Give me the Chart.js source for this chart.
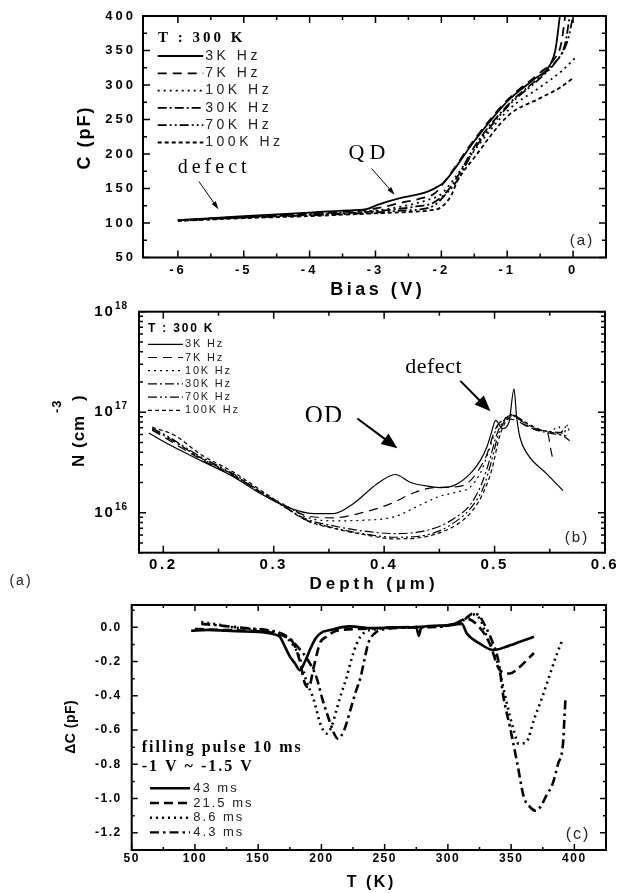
<!DOCTYPE html>
<html>
<head>
<meta charset="utf-8">
<script src="https://cdn.jsdelivr.net/npm/chart.js@4.4.1/dist/chart.umd.min.js"></script>
<style>
  html, body { margin: 0; padding: 0; background: #fff; }
  #page { position: relative; width: 618px; height: 893px; overflow: hidden; }
  canvas { position: absolute; left: 0; }
</style>
</head>
<body>
<div id="page">
  <canvas id="chartA" width="618" height="300" style="top:0px"></canvas>
  <canvas id="chartB" width="618" height="300" style="top:298px"></canvas>
  <canvas id="chartC" width="618" height="295" style="top:598px"></canvas>
</div>
<script>
// ============ DATA ============
// (a) C-V curves at 300 K, [bias V, C pF]
const A_LABELS = ["3K Hz", "7K Hz", "10K Hz", "30K Hz", "70K Hz", "100K Hz"];
const A_3K = [[-6,104],[-5,110],[-4,115],[-3.5,118],[-3.14,120],[-2.98,126],[-2.63,136],[-2.22,145],[-2.07,152],[-1.97,158],[-1.49,220],[-0.98,278],[-0.6,308],[-0.35,329],[-0.27,350],[-0.2,400]];
const A_7K = [[-6,104],[-5,109],[-4,114],[-3.5,116],[-3,121],[-2.63,129],[-2.3,136],[-2.1,143],[-1.95,160],[-1.49,222],[-0.98,280],[-0.5,318],[-0.3,336],[-0.18,360],[-0.12,400]];
const A_10K = [[-6,103],[-5,108],[-4,113],[-3.5,115],[-3,118],[-2.6,124],[-2.22,133],[-2,142],[-1.8,165],[-1.49,206],[-0.98,264],[-0.5,297],[-0.2,318],[0.04,340]];
const A_30K = [[-6,104],[-5,108],[-4,112],[-3.5,114],[-3,117],[-2.6,121],[-2.38,124],[-2.13,129],[-1.92,145],[-1.75,168],[-1.49,212],[-0.98,272],[-0.5,312],[-0.3,330],[-0.12,360],[-0.05,400]];
const A_70K = [[-6,104],[-5,108],[-4,111],[-3.5,113],[-3,115],[-2.6,118],[-2.3,120],[-2.1,126],[-1.92,143],[-1.77,160],[-1.49,208],[-0.98,270],[-0.5,310],[-0.25,335],[-0.08,365],[0,400]];
const A_100K = [[-6,103],[-5,107],[-4,110],[-3.5,112],[-3,114],[-2.5,116],[-2.2,118],[-2,123],[-1.85,140],[-1.76,160],[-1.49,196],[-0.98,256],[-0.5,281],[-0.2,296],[0,310]];
const A_X_TICKS = [-6, -5, -4, -3, -2, -1, 0];
const A_Y_TICKS = [50, 100, 150, 200, 250, 300, 350, 400];

// (b) carrier profile, [depth um, N cm^-3]
const B_LABELS = ["3K Hz", "7K Hz", "10K Hz", "30K Hz", "70K Hz", "100K Hz"];
const B_3K = [[0.187,6.2e16],[0.203,4.9e16],[0.234,3.3e16],[0.263,2.3e16],[0.288,1.55e16],[0.311,1.15e16],[0.336,9.8e15],[0.354,9.8e15],[0.372,1.23e16],[0.394,1.95e16],[0.41,2.4e16],[0.424,2.0e16],[0.442,1.82e16],[0.451,1.78e16],[0.463,1.86e16],[0.478,2.45e16],[0.487,3.3e16],[0.493,4.5e16],[0.497,6.2e16],[0.501,8.3e16],[0.507,6.9e16],[0.513,7.9e16],[0.5176,1.7e17],[0.52,8.9e16],[0.523,5.6e16],[0.53,3.8e16],[0.547,2.45e16],[0.562,1.66e16]];
const B_7K = [[0.19,6.6e16],[0.2,5.7e16],[0.234,3.4e16],[0.263,2.35e16],[0.288,1.6e16],[0.311,1.17e16],[0.33,9.3e15],[0.354,8.9e15],[0.38,1.0e16],[0.406,1.23e16],[0.427,1.58e16],[0.445,1.78e16],[0.463,1.8e16],[0.475,1.95e16],[0.485,2.6e16],[0.493,3.8e16],[0.5,6.5e16],[0.505,8e16],[0.512,8.6e16],[0.52,8.2e16],[0.53,7.2e16],[0.54,6.6e16],[0.548,6.2e16],[0.551,4.2e16],[0.553,3.3e16]];
const B_10K = [[0.19,6.8e16],[0.2,6.0e16],[0.234,3.5e16],[0.263,2.4e16],[0.288,1.62e16],[0.311,1.18e16],[0.33,9.0e15],[0.354,8.3e15],[0.38,8.4e15],[0.409,9.1e15],[0.433,1.2e16],[0.45,1.45e16],[0.465,1.6e16],[0.478,1.8e16],[0.488,2.6e16],[0.495,4.2e16],[0.502,7e16],[0.51,8.8e16],[0.516,9.2e16],[0.525,8e16],[0.54,6.8e16],[0.55,6.4e16],[0.558,7.2e16],[0.562,6e16],[0.566,7.5e16]];
const B_30K = [[0.19,6.7e16],[0.2,5.9e16],[0.234,3.5e16],[0.263,2.4e16],[0.288,1.6e16],[0.311,1.12e16],[0.33,8.6e15],[0.354,7.4e15],[0.38,6.6e15],[0.41,6.2e15],[0.43,6.4e15],[0.45,7.3e15],[0.465,9e15],[0.478,1.2e16],[0.488,1.9e16],[0.495,3.2e16],[0.502,6e16],[0.508,8.2e16],[0.515,9.3e16],[0.522,8.5e16],[0.535,6.8e16],[0.55,6.2e16],[0.562,5.8e16],[0.568,5.2e16]];
const B_70K = [[0.19,6.9e16],[0.2,6.1e16],[0.234,3.6e16],[0.263,2.45e16],[0.288,1.62e16],[0.311,1.12e16],[0.33,8.4e15],[0.354,7.1e15],[0.38,6.2e15],[0.41,5.7e15],[0.43,5.8e15],[0.45,6.6e15],[0.465,8.2e15],[0.478,1.1e16],[0.49,1.8e16],[0.497,3.2e16],[0.503,5.8e16],[0.51,8.5e16],[0.516,9.5e16],[0.523,8.6e16],[0.535,7e16],[0.55,6.4e16],[0.56,6.3e16],[0.565,7.2e16],[0.568,6.5e16]];
const B_100K = [[0.19,7.1e16],[0.21,5.9e16],[0.234,3.8e16],[0.263,2.55e16],[0.288,1.68e16],[0.311,1.13e16],[0.33,8.3e15],[0.354,7.0e15],[0.38,6.1e15],[0.41,5.5e15],[0.43,5.6e15],[0.45,6.3e15],[0.468,7.9e15],[0.48,1.05e16],[0.49,1.6e16],[0.498,2.8e16],[0.504,5.5e16],[0.51,8e16],[0.517,9.3e16],[0.525,8.3e16],[0.54,6.8e16],[0.555,6.2e16],[0.565,5.8e16]];
const B_X_TICKS = [0.2, 0.3, 0.4, 0.5, 0.6];
const B_Y_TICKS = [1e16, 1e17, 1e18];

// (c) DLTS spectra, [T K, dC pF]
const C_LABELS = ["43 ms", "21.5 ms", "8.6 ms", "4.3 ms"];
const C_43 = [[97,-0.02],[110,-0.015],[125,-0.02],[140,-0.025],[155,-0.03],[162,-0.04],[167,-0.055],[171,-0.11],[175,-0.17],[179,-0.21],[183,-0.25],[187,-0.2],[191,-0.13],[195,-0.07],[199,-0.036],[207,-0.016],[222,0.005],[240,-0.005],[260,0],[275,0],[277,-0.05],[279,0],[295,0.01],[305,0.015],[311,0.02],[315,-0.036],[325,-0.094],[336,-0.133],[346,-0.114],[357,-0.085],[368,-0.055]];
const C_21 = [[100,-0.01],[120,-0.015],[140,-0.02],[160,-0.03],[170,-0.05],[178,-0.094],[183,-0.2],[187,-0.33],[190,-0.35],[194,-0.23],[199,-0.09],[204,-0.055],[212,-0.02],[230,-0.01],[260,0],[290,0.005],[305,0.02],[315,0.05],[325,0],[333,-0.094],[341,-0.25],[349,-0.27],[357,-0.23],[368,-0.15]];
const C_8 = [[105,0.03],[115,0.02],[130,0],[150,-0.015],[165,-0.03],[175,-0.08],[183,-0.18],[188,-0.31],[194,-0.425],[199,-0.56],[204,-0.62],[208,-0.58],[212,-0.48],[216,-0.38],[220,-0.29],[224,-0.18],[228,-0.094],[233,-0.036],[245,-0.01],[270,0],[300,0.01],[312,0.04],[320,0.075],[326,0.04],[331,-0.06],[336,-0.13],[341,-0.26],[346,-0.425],[352,-0.6],[356,-0.68],[362,-0.67],[368,-0.54],[374,-0.42],[380,-0.29],[386,-0.16],[391,-0.065]];
const C_4 = [[105,0.02],[120,0.01],[140,-0.005],[160,-0.02],[172,-0.05],[182,-0.12],[190,-0.2],[196,-0.29],[201,-0.425],[207,-0.56],[210,-0.62],[213,-0.65],[218,-0.6],[223,-0.48],[227,-0.38],[231,-0.29],[234,-0.19],[237,-0.094],[242,-0.036],[252,-0.01],[280,0],[300,0.01],[312,0.04],[320,0.08],[325,0.065],[330,0],[336,-0.1],[340,-0.2],[344,-0.41],[349,-0.58],[355,-0.8],[360,-0.99],[365,-1.05],[369,-1.07],[373,-1.05],[378,-0.98],[383,-0.91],[387,-0.8],[391,-0.68],[392,-0.55],[393,-0.41]];
const C_X_TICKS = [50, 100, 150, 200, 250, 300, 350, 400];
const C_Y_TICKS = [0, -0.2, -0.4, -0.6, -0.8, -1.0, -1.2];

// ============ STYLE ============
const INK = "#000";
const SANS = '"Liberation Sans", Arial, sans-serif';
const SERIF = '"Liberation Serif", "Times New Roman", serif';
const DASH = {
  solid: [], dash: [9, 6], dot: [2, 4], dashDot: [9, 3, 2, 3],
  dashDotDot: [9, 3, 2, 3, 2, 3], shortDash: [4, 3]
};
const SIX_DASHES = [DASH.solid, DASH.dash, DASH.dot, DASH.dashDot, DASH.dashDotDot, DASH.shortDash];

// ============ UTILS ============
function toXY(pairs) { return pairs.map(([x, y]) => ({ x, y })); }
function mids(ticks) { return ticks.slice(1).map((v, i) => (v + ticks[i]) / 2); }
function fixTicks(vals) { return s => { s.ticks = vals.map(v => ({ value: v })); }; }
// pin the axis box size and drop the label overhang Chart.js reserves
function boxSize(prop, px) {
  return s => { s[prop] = px; s.paddingTop = 0; s.paddingBottom = 0; s.paddingLeft = 0; s.paddingRight = 0; };
}

function series(labels, arrays, dashes, width) {
  return arrays.map((arr, i) => ({
    label: labels[i], data: toXY(arr), borderColor: INK, borderWidth: width,
    borderDash: dashes[i], pointRadius: 0, fill: false, cubicInterpolationMode: "monotone"
  }));
}

function drawText(ctx, t, x, y) {
  const sp = t.spacing || 0;
  ctx.save();
  ctx.font = t.font;
  ctx.letterSpacing = sp + "px";
  ctx.textAlign = t.align || "center";
  ctx.textBaseline = "middle";
  ctx.fillStyle = t.color || INK;
  ctx.translate(x, y);
  if (t.rotate) ctx.rotate(-Math.PI / 2);
  ctx.fillText(t.text, (t.align || "center") === "center" ? sp / 2 : 0, 0);
  ctx.restore();
}

function drawArrow(ctx, p0, p1, w, L, W) {
  const ang = Math.atan2(p1[1] - p0[1], p1[0] - p0[0]);
  const c = Math.cos(ang), s = Math.sin(ang);
  const bx = p1[0] - L * c, by = p1[1] - L * s;
  ctx.lineWidth = w;
  ctx.beginPath(); ctx.moveTo(p0[0], p0[1]); ctx.lineTo(bx + c, by + s); ctx.stroke();
  ctx.beginPath();
  ctx.moveTo(p1[0], p1[1]);
  ctx.lineTo(bx + W / 2 * s, by - W / 2 * c);
  ctx.lineTo(bx - W / 2 * s, by + W / 2 * c);
  ctx.closePath(); ctx.fill();
}

// ============ PLUGIN: frame, inward ticks, legend, notes ============
const decor = {
  id: "decor",
  beforeDraw(chart, args, o) { chart.ctx.letterSpacing = (o.tickSpacing || 0) + "px"; },
  afterDraw(chart, args, o) {
    const { ctx, chartArea: a } = chart;
    const xs = chart.scales.x, ys = chart.scales.y;
    const P = pt => [xs.getPixelForValue(pt[0]), ys.getPixelForValue(pt[1])];
    ctx.save();
    ctx.letterSpacing = "0px";
    ctx.strokeStyle = INK; ctx.fillStyle = INK; ctx.setLineDash([]);

    // inward ticks on all four sides
    ctx.lineWidth = 1.5;
    const mark = (scale, vals, len) => vals.forEach(v => {
      const p = scale.getPixelForValue(v);
      ctx.beginPath();
      if (scale.isHorizontal()) {
        ctx.moveTo(p, a.bottom); ctx.lineTo(p, a.bottom - len);
        ctx.moveTo(p, a.top); ctx.lineTo(p, a.top + len);
      } else {
        ctx.moveTo(a.left, p); ctx.lineTo(a.left + len, p);
        ctx.moveTo(a.right, p); ctx.lineTo(a.right - len, p);
      }
      ctx.stroke();
    });
    mark(xs, o.xMajor, o.major); mark(xs, o.xMinor, o.minor);
    mark(ys, o.yMajor, o.major); mark(ys, o.yMinor, o.minor);
    ctx.lineWidth = 2;
    ctx.strokeRect(a.left, a.top, a.right - a.left, a.bottom - a.top);

    // power-of-ten labels for log axis
    if (o.powerTicks) {
      const pt = o.powerTicks;
      ys.ticks.forEach(t => {
        const py = ys.getPixelForValue(t.value);
        const exp = String(Math.round(Math.log10(t.value)));
        ctx.font = pt.supFont; ctx.letterSpacing = "1px";
        const we = ctx.measureText(exp).width;
        ctx.textAlign = "left"; ctx.textBaseline = "middle";
        ctx.fillText(exp, pt.right - we, py - 5.5);
        ctx.font = pt.font; ctx.letterSpacing = "2px"; ctx.textAlign = "right";
        ctx.fillText("10", pt.right - we, py);
      });
      ctx.letterSpacing = "0px";
    }

    // legend inside the plot
    const lg = o.legend;
    if (lg) {
      lg.titles.forEach(t => drawText(ctx, Object.assign({ align: "left" }, t), a.left + t.x, a.top + t.y));
      chart.data.datasets.forEach((ds, i) => {
        const yy = a.top + lg.y0 + i * lg.dy;
        ctx.save();
        ctx.lineWidth = lg.lineWidth; ctx.setLineDash(ds.borderDash);
        ctx.beginPath(); ctx.moveTo(a.left + lg.x, yy); ctx.lineTo(a.left + lg.x + lg.len, yy); ctx.stroke();
        ctx.restore();
        drawText(ctx, { text: ds.label, font: lg.font, spacing: lg.spacing, align: "left", color: "#222" },
          a.left + lg.x + lg.len + lg.gap, yy);
      });
    }

    // annotations in data coordinates
    (o.notes || []).forEach(t => {
      const p = P(t.at);
      ctx.save();
      if (t.clipY !== undefined) {
        ctx.beginPath(); ctx.rect(0, 0, chart.width, ys.getPixelForValue(t.clipY)); ctx.clip();
      }
      drawText(ctx, t, p[0], p[1]);
      ctx.restore();
    });
    (o.arrows || []).forEach(ar => drawArrow(ctx, P(ar.from), P(ar.to), ar.width, ar.head[0], ar.head[1]));

    // titles and panel tags in canvas pixels
    (o.texts || []).forEach(t => drawText(ctx, t, t.x, t.y));
    ctx.restore();
  }
};

function baseScale(cfg) {
  return Object.assign({
    type: "linear",
    grid: { display: false, drawTicks: false },
    border: { display: false },
  }, cfg);
}

function makeChart(id, datasets, scales, padding, decorOpts) {
  return new Chart(document.getElementById(id), {
    type: "line",
    data: { datasets },
    options: {
      responsive: false, animation: false,
      layout: { padding },
      scales,
      plugins: { legend: { display: false }, tooltip: { enabled: false }, decor: decorOpts }
    },
    plugins: [decor]
  });
}

// ============ PANEL (a) ============
makeChart("chartA",
  series(A_LABELS, [A_3K, A_7K, A_10K, A_30K, A_70K, A_100K], SIX_DASHES, 1.8),
  {
    x: baseScale({ min: -6.53, max: 0.5, afterBuildTicks: fixTicks(A_X_TICKS), afterFit: boxSize("height", 42.5),
      ticks: { font: { family: SANS, size: 13, weight: "bold" }, color: INK, padding: 5, maxRotation: 0, autoSkip: false } }),
    y: baseScale({ min: 50, max: 400, afterBuildTicks: fixTicks(A_Y_TICKS), afterFit: boxSize("width", 143),
      ticks: { font: { family: SANS, size: 13, weight: "bold" }, color: INK, padding: 7, autoSkip: false } })
  },
  { left: 0, right: 12, top: 16, bottom: 0 },
  {
    tickSpacing: 3, major: 7, minor: 4,
    xMajor: A_X_TICKS, xMinor: mids(A_X_TICKS), yMajor: A_Y_TICKS, yMinor: mids(A_Y_TICKS),
    legend: {
      titles: [{ text: "T : 300 K", font: "bold 15px " + SERIF, spacing: 3, x: 15, y: 22.5 }],
      x: 14.7, len: 45.6, gap: 2, y0: 40, dy: 17.3, lineWidth: 1.8, font: "14px " + SANS, spacing: 3.5
    },
    notes: [
      { text: "defect", at: [-5.48, 180], font: "20px " + SERIF, spacing: 4 },
      { text: "QD", at: [-3.13, 201], font: "22px " + SERIF, spacing: 5 }
    ],
    arrows: [
      { from: [-5.68, 160], to: [-5.385, 120], width: 1, head: [8, 5] },
      { from: [-3.06, 179], to: [-2.71, 141], width: 1, head: [8, 5] }
    ],
    texts: [
      { text: "C (pF)", x: 85, y: 138.5, rotate: true, font: "bold 18px " + SANS, spacing: 2 },
      { text: "Bias (V)", x: 376, y: 290, font: "bold 18px " + SANS, spacing: 3.5 },
      { text: "(a)", x: 581, y: 241, font: "15px " + SANS, spacing: 2, color: "#222" }
    ]
  });

// ============ PANEL (b) ============
const B_Y_MINOR = [];
[1e15, 1e16, 1e17].forEach(d => { for (let k = 2; k <= 9; k++) if (k * d >= 4e15) B_Y_MINOR.push(k * d); });

makeChart("chartB",
  series(B_LABELS, [B_3K, B_7K, B_10K, B_30K, B_70K, B_100K], SIX_DASHES, 1.2),
  {
    x: baseScale({ min: 0.178, max: 0.6, afterBuildTicks: fixTicks(B_X_TICKS), afterFit: boxSize("height", 45.3),
      ticks: { font: { family: SANS, size: 15, weight: "bold" }, color: INK, padding: 3, maxRotation: 0, autoSkip: false,
        callback: v => v.toFixed(1) } }),
    y: baseScale({ type: "logarithmic", min: 4e15, max: 1e18, afterBuildTicks: fixTicks(B_Y_TICKS), afterFit: boxSize("width", 139),
      ticks: { display: false } })
  },
  { left: 0, right: 13, top: 13.7, bottom: 0 },
  {
    tickSpacing: 2.5, major: 7, minor: 4,
    xMajor: B_X_TICKS, xMinor: mids(B_X_TICKS), yMajor: B_Y_TICKS, yMinor: B_Y_MINOR,
    powerTicks: { right: 128, font: "bold 15px " + SANS, supFont: "bold 10px " + SANS },
    legend: {
      titles: [{ text: "T : 300 K", font: "bold 12px " + SANS, spacing: 1.8, x: 9, y: 17.3 }],
      x: 9, len: 35, gap: 2, y0: 32.6, dy: 13.2, lineWidth: 1.2, font: "11px " + SANS, spacing: 1.8
    },
    notes: [
      { text: "defect", at: [0.4446, 2.8e17], font: "22px " + SERIF, spacing: 0.5 },
      { text: "QD", at: [0.345, 9.06e16], font: "25px " + SERIF, spacing: 1, clipY: 8.0e16 }
    ],
    arrows: [
      { from: [0.469, 2.05e17], to: [0.4963, 1.02e17], width: 2, head: [16, 13] },
      { from: [0.3757, 8.67e16], to: [0.412, 4.37e16], width: 2, head: [16, 13] }
    ],
    texts: [
      { text: "N (cm", x: 79, y: 169, rotate: true, align: "left", font: "bold 17px " + SANS, spacing: 1 },
      { text: ")", x: 79, y: 103, rotate: true, align: "left", font: "bold 17px " + SANS, spacing: 1 },
      { text: "-3", x: 57, y: 115, rotate: true, align: "left", font: "bold 13px " + SANS, spacing: 1 },
      { text: "Depth (µm)", x: 372, y: 286, font: "bold 17px " + SANS, spacing: 4 },
      { text: "(b)", x: 576, y: 240, font: "15px " + SANS, spacing: 2, color: "#222" },
      { text: "(a)", x: 20, y: 283, font: "14px " + SANS, spacing: 2, color: "#222" }
    ]
  });

// ============ PANEL (c) ============
makeChart("chartC",
  series(C_LABELS, [C_43, C_21, C_8, C_4], [DASH.solid, [9, 5], [2, 4], [9, 4, 2.5, 4]], 2.6),
  {
    x: baseScale({ min: 50, max: 425, afterBuildTicks: fixTicks(C_X_TICKS), afterFit: boxSize("height", 43),
      ticks: { font: { family: SANS, size: 12, weight: "bold" }, color: INK, padding: 1.5, maxRotation: 0, autoSkip: false } }),
    y: baseScale({ min: -1.3, max: 0.13, afterBuildTicks: fixTicks(C_Y_TICKS), afterFit: boxSize("width", 131.7),
      ticks: { font: { family: SANS, size: 12, weight: "bold" }, color: INK, padding: 10, autoSkip: false,
        callback: v => v.toFixed(1) } })
  },
  { left: 0, right: 12, top: 7, bottom: 0 },
  {
    tickSpacing: 1.5, major: 6, minor: 3,
    xMajor: C_X_TICKS, xMinor: mids(C_X_TICKS).concat([425]), yMajor: C_Y_TICKS, yMinor: mids(C_Y_TICKS).concat([0.1]),
    legend: {
      titles: [
        { text: "filling pulse 10 ms", font: "bold 16px " + SERIF, spacing: 2, x: 10, y: 143 },
        { text: "-1 V ~ -1.5 V", font: "bold 16px " + SERIF, spacing: 2, x: 10, y: 162 }
      ],
      x: 18.3, len: 40, gap: 3.3, y0: 183.3, dy: 14.7, lineWidth: 2.4, font: "13px " + SANS, spacing: 2
    },
    texts: [
      { text: "ΔC (pF)", x: 71, y: 129, rotate: true, font: "bold 14px " + SANS, spacing: 0.5 },
      { text: "T (K)", x: 370, y: 285, font: "bold 16px " + SANS, spacing: 2.5 },
      { text: "(c)", x: 577, y: 237, font: "16px " + SANS, spacing: 2, color: "#222" }
    ]
  });
</script>
</body>
</html>
